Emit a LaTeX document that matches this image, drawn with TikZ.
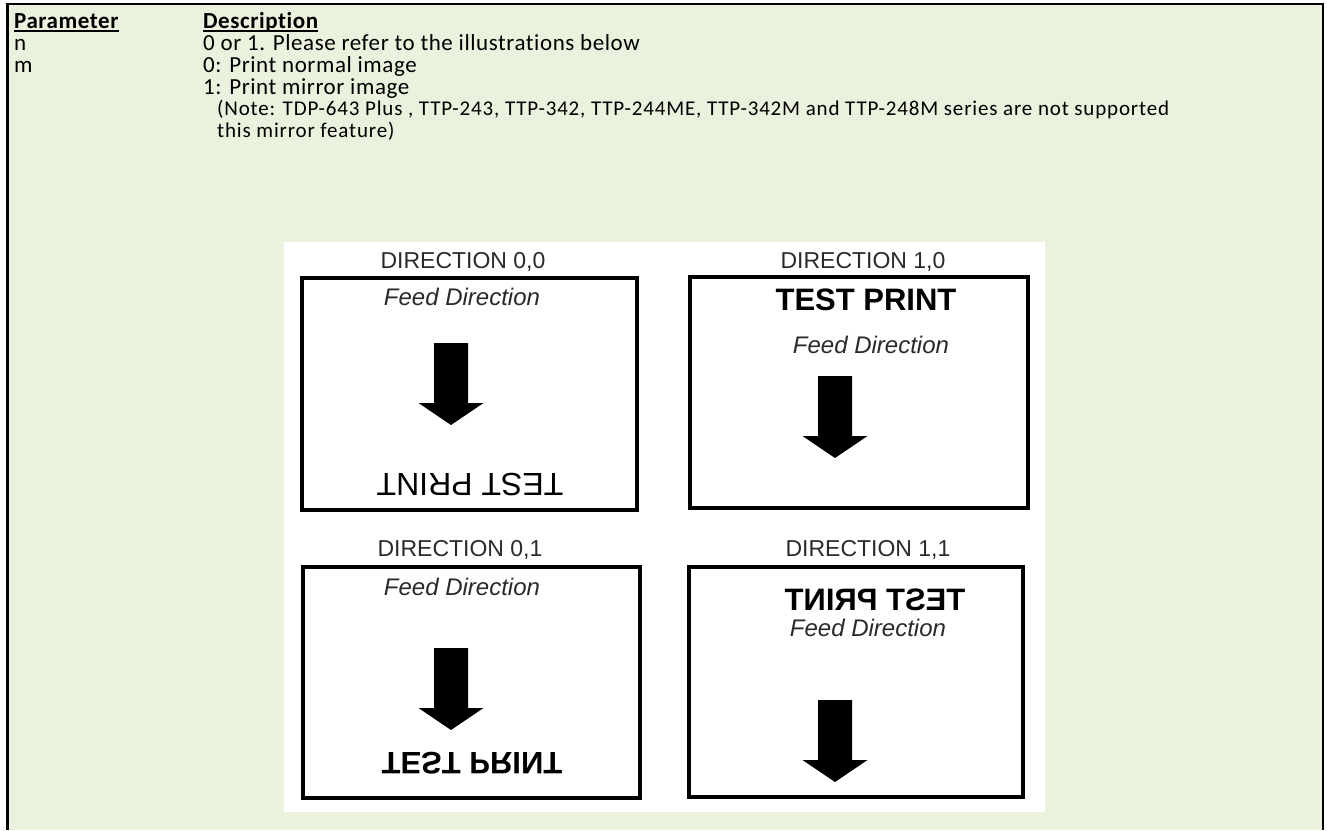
\documentclass[tikz,border=0pt]{standalone}
\usepackage{fontspec}
\usepackage{graphicx}
\setmainfont[Ligatures=NoCommon]{Carlito}
\newfontfamily\bodyfont[Ligatures=NoCommon,LetterSpace=2.5]{Carlito}
\newfontfamily\notefont[Ligatures=NoCommon,LetterSpace=4]{Carlito}
\newfontfamily\arialf{Liberation Sans}
\definecolor{tblgreen}{HTML}{EAF1DD}
\definecolor{labgray}{HTML}{2A2A2A}
\newcommand\feedarrow[2]{%
  \fill (#1-17,#2-82) -- (#1+17,#2-82) -- (#1+17,#2-22) -- (#1+32.5,#2-22)
    -- (#1,#2) -- (#1-32.5,#2-22) -- (#1-17,#2-22) -- cycle;}
\begin{document}
\begin{tikzpicture}[x=1pt,y=-1pt,
  txt/.style={anchor=base west,inner sep=0pt,font=\bodyfont\fontsize{23}{23}\selectfont},
  headtxt/.style={txt,font=\bodyfont\bfseries\fontsize{23}{23}\selectfont},
  notetxt/.style={anchor=base west,inner sep=0pt,font=\notefont\fontsize{21}{21}\selectfont},
  uline/.style={line width=1.6pt},
  dirlab/.style={inner sep=0pt,text=labgray,font=\arialf\fontsize{23}{23}\selectfont},
  feedlab/.style={inner sep=0pt,text=labgray,font=\arialf\itshape\fontsize{24}{24}\selectfont},
  testreg/.style={inner sep=0pt,font=\arialf\fontsize{32}{32}\selectfont},
  testbold/.style={inner sep=0pt,font=\arialf\bfseries\fontsize{31}{31}\selectfont},
  labelbox/.style={draw=black,line width=4pt}]
\useasboundingbox (0,0) rectangle (1327,830);
\fill[white] (0,0) rectangle (1327,830);
\fill[tblgreen] (8.5,5) rectangle (1322,830);
\draw[line width=2.5pt] (7.5,830) -- (7.5,4) -- (1323,4) -- (1323,830);
% header and rows
\node[headtxt] (hpar) at (14,28) {Parameter};
\node[headtxt] (hdesc) at (203,28) {Description};
\draw[uline] ([yshift=-3pt]hpar.base west) -- ([yshift=-3pt]hpar.base east);
\draw[uline] ([yshift=-3pt]hdesc.base west) -- ([yshift=-3pt]hdesc.base east);
\node[txt] (pn) at (14,50) {n};
\node[txt] (dn) at (203,50) {0 or 1. Please refer to the illustrations below};
\node[txt] (pm) at (14,72) {m};
\node[txt] (dm0) at (203,72) {0: Print normal image};
\node[txt] (dm1) at (203,94) {1: Print mirror image};
\node[notetxt] (note1) at (217,115) {(Note: TDP-643 Plus , TTP-243, TTP-342, TTP-244ME, TTP-342M and TTP-248M series are not supported};
\node[notetxt] (note2) at (217,137) {this mirror feature)};
% illustration area
\fill[white] (284,242) rectangle (1045,812);
% DIRECTION 0,0
\draw[labelbox] (302,278) rectangle (637,510);
\node[dirlab] (d00) at (463,262) {DIRECTION 0,0};
\node[feedlab] (f00) at (462,297) {Feed Direction};
\feedarrow{451}{425}
\node[testreg] (t00) at (470,485) {\rotatebox[origin=c]{180}{TEST PRINT}};
% DIRECTION 1,0
\draw[labelbox] (690,277) rectangle (1028,508);
\node[dirlab] (d10) at (863,262) {DIRECTION 1,0};
\node[testbold] (t10) at (866,300) {TEST PRINT};
\node[feedlab] (f10) at (871,345) {Feed Direction};
\feedarrow{835}{458}
% DIRECTION 0,1
\draw[labelbox] (303,567) rectangle (640,798);
\node[dirlab] (d01) at (460,550) {DIRECTION 0,1};
\node[feedlab] (f01) at (462,587) {Feed Direction};
\feedarrow{451}{730}
\node[testbold] (t01) at (472,763) {\rotatebox[origin=c]{180}{\reflectbox{TEST PRINT}}};
% DIRECTION 1,1
\draw[labelbox] (689,567) rectangle (1023,797);
\node[dirlab] (d11) at (868,550) {DIRECTION 1,1};
\node[testbold] (t11) at (875,600) {\reflectbox{TEST PRINT}};
\node[feedlab] (f11) at (868,628) {Feed Direction};
\feedarrow{835}{782}
\end{tikzpicture}
\end{document}
